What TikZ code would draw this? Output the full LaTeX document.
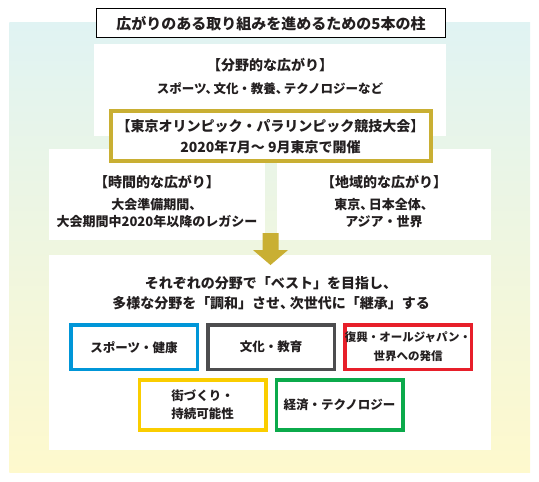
\documentclass[tikz,border=0pt]{standalone}
\usepackage{fontspec}
\newfontfamily\jp{Noto Sans CJK JP}
\newcommand\fsz[2]{\fontsize{#1}{#2}\selectfont}
\newcommand\tten{、\kern-4.5pt}
\definecolor{bgtop}{HTML}{E0F3F3}
\definecolor{bgbot}{HTML}{FEF9CD}
\definecolor{gold}{HTML}{C9AF33}
\definecolor{cblue}{HTML}{0096D8}
\definecolor{cgray}{HTML}{4D4D4F}
\definecolor{cred}{HTML}{E71F2A}
\definecolor{cyel}{HTML}{FACD00}
\definecolor{cgreen}{HTML}{0BAA4B}
\definecolor{txt}{HTML}{231F20}
\tikzset{
  wbox/.style={fill=white, draw=none, inner sep=0, outer sep=0},
  titlebox/.style={fill=white, draw=black, line width=1.1pt, inner sep=0},
  goldbox/.style={fill=white, draw=gold, line width=4pt, inner sep=0},
  cbox/.style={fill=white, draw=#1, line width=3.5pt, inner sep=0},
  lbl/.style={text=txt, inner sep=0, align=center},
}
\begin{document}
\begin{tikzpicture}[x=1pt, y=-1pt]
\useasboundingbox (0,0) rectangle (539,482);
\shade[top color=bgtop, bottom color=bgbot] (9.3,22.7) rectangle (530,472.7);
% frames
\node[titlebox, minimum width=349, minimum height=29] (title) at (271,23.3) {};
\node[wbox, minimum width=352, minimum height=91.7] (top) at (270,89.85) {};
\node[wbox, minimum width=216, minimum height=91] (midL) at (157,194.5) {};
\node[wbox, minimum width=214, minimum height=91] (midR) at (384,194.5) {};
\node[goldbox, minimum width=320, minimum height=50] (olymp) at (270.5,135.5) {};
\node[wbox, minimum width=442, minimum height=195] (bottom) at (270,352.5) {};
% arrow
\coordinate (atip) at (270.5,265);
\fill[gold] (262.5,233) -- (278.5,233) -- (278.5,250) -- (288,250) -- (atip) -- (253,250) -- (262.5,250) -- cycle;
% coloured boxes
\node[cbox=cblue, minimum width=126.5, minimum height=44.2] (b1) at (134,347.15) {};
\node[cbox=cgray, minimum width=126.5, minimum height=44.2] (b2) at (271,347.15) {};
\node[cbox=cred, minimum width=126.5, minimum height=44.2] (b3) at (408,347.15) {};
\node[cbox=cyel, minimum width=126.5, minimum height=49.9] (b4) at (202.5,405) {};
\node[cbox=cgreen, minimum width=126.5, minimum height=49.9] (b5) at (339.5,405) {};
% texts
\node[lbl, font={\jp\bfseries\fsz{15}{18}}] (ttitle) at (title) {広がりのある取り組みを進めるための5本の柱};
\node[lbl, font={\jp\bfseries\fsz{14}{17}}] (t1) at (270,65) {【分野的な広がり】};
\node[lbl, font={\jp\bfseries\fsz{12.5}{15}}] (t2) at (270,88.3) {スポーツ\tten 文化・教養\tten テクノロジーなど};
\node[lbl, font={\jp\bfseries\fsz{14}{20.7}}] (t3) at (270.5,136.35) {【東京オリンピック・パラリンピック競技大会】\\2020年7月〜 9月東京で開催};
\node[lbl, font={\jp\bfseries\fsz{14}{17}}] (t4) at (157,181.7) {【時間的な広がり】};
\node[lbl, font={\jp\bfseries\fsz{13}{16.7}}] (t5) at (157,213.35) {大会準備期間、\\大会期間中2020年以降のレガシー};
\node[lbl, font={\jp\bfseries\fsz{14}{17}}] (t6) at (384,181.7) {【地域的な広がり】};
\node[lbl, font={\jp\bfseries\fsz{13}{16.7}}] (t7) at (384,213.35) {東京\tten 日本全体、\\アジア・世界};
\node[lbl, font={\jp\bfseries\fsz{14}{19.7}}] (t8) at (271,293.2) {それぞれの分野で「ベスト」を目指し、\\多様な分野を「調和」させ\tten 次世代に「継承」する};
\node[lbl, font={\jp\bfseries\fsz{12.5}{19}}] at (b1) {スポーツ・健康};
\node[lbl, font={\jp\bfseries\fsz{12.5}{19}}] at (b2) {文化・教育};
\node[lbl, font={\jp\bfseries\fsz{11.5}{19}}] at (b3) {復興・オールジャパン・\\世界への発信};
\node[lbl, font={\jp\bfseries\fsz{12.5}{18.3}}] at (b4) {街づくり・\\持続可能性};
\node[lbl, font={\jp\bfseries\fsz{12.5}{19}}] at (b5) {経済・テクノロジー};
\end{tikzpicture}
\end{document}
